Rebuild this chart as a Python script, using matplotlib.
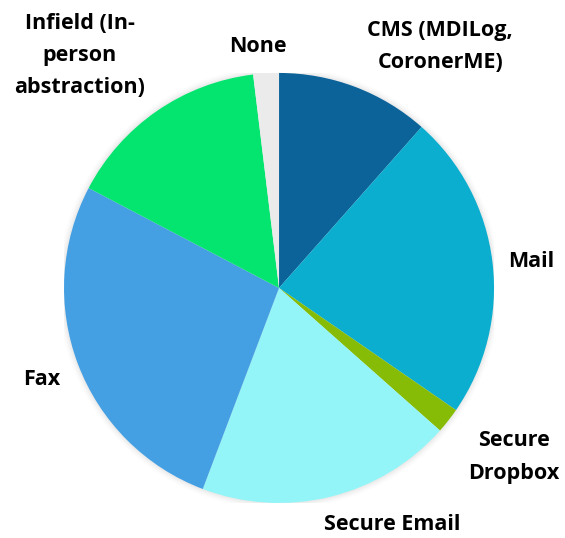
import matplotlib.pyplot as plt
from matplotlib.patches import Circle

# Delivery method counts
methods = ['CMS (MDILog,\nCoronerME)', 'Mail', 'Secure\nDropbox', 'Secure Email',
           'Fax', 'Infield (In-\nperson\nabstraction)', 'None']
counts = [6, 12, 1, 10, 14, 8, 1]
colors = ['#0B639A', '#0BAECF', '#86BC06', '#93F5F7', '#45A0E3', '#03E56E', '#EBEBEB']

# label anchor points (pie radius = 1)
label_xy = [(0.75, 1.123), (1.172, 0.121), (1.093, -0.786), (0.526, -1.102),
            (-1.102, -0.428), (-0.926, 1.08), (-0.098, 1.121)]

plt.rcParams['font.family'] = ['Open Sans', 'DejaVu Sans']

fig = plt.figure(figsize=(5.65, 5.38), dpi=100)
ax = fig.add_axes([0.1133, 0.0651, 0.7611, 0.7993])

# soft shadow round the pie
for i, a in enumerate([0.025, 0.02, 0.015, 0.01, 0.006]):
    ax.add_patch(Circle((0, 0), 1 + 0.006 * (i + 1), color='black', alpha=a, lw=0, zorder=0))

ax.pie(counts, colors=colors, startangle=90, counterclock=False, radius=1,
       wedgeprops=dict(linewidth=0, zorder=1))

for (x, y), name in zip(label_xy, methods):
    ax.text(x, y, name, ha='center', va='center', fontsize=15.5, fontweight='bold',
            color='black', linespacing=1.7)

ax.set_xlim(-1, 1)
ax.set_ylim(-1, 1)
ax.set_aspect('equal')
ax.axis('off')

fig.savefig('out.png', dpi=100)
